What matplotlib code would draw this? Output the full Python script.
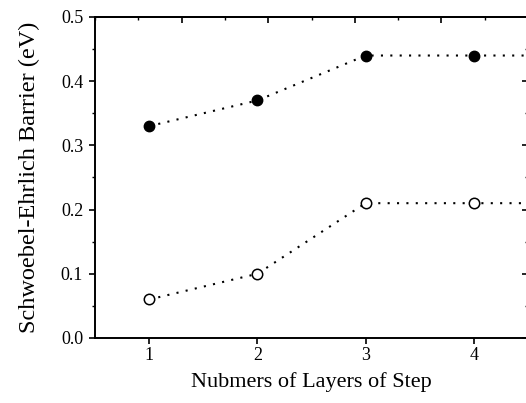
import matplotlib
matplotlib.use("Agg")
import matplotlib.pyplot as plt
from matplotlib.ticker import MultipleLocator

plt.rcParams['font.family'] = ['Liberation Serif', 'DejaVu Serif']

# data
layers = [1, 2, 3, 4, 5]
barrier_filled = [0.33, 0.37, 0.44, 0.44, 0.44]
barrier_open = [0.06, 0.10, 0.21, 0.21, 0.21]

fig = plt.figure(figsize=(5.26, 4.03), dpi=100)
W, H = 526.0, 403.0
ax = fig.add_axes([95 / W, 65 / H, (528 - 95) / W, (338 - 17) / H])

dots = (0, (1, 3.5))
ax.plot(layers, barrier_filled, linestyle=dots, color='black', lw=1.5,
        marker='o', markersize=7.5, markerfacecolor='black', markeredgecolor='black')
ax.plot(layers, barrier_open, linestyle=dots, color='black', lw=1.5,
        marker='o', markersize=7.5, markerfacecolor='white', markeredgecolor='black',
        markeredgewidth=1.1)

ax.set_xlim(0.5, 4.5)
ax.set_ylim(0.0, 0.5)
ax.set_xticks([1, 2, 3, 4])
ax.yaxis.set_major_locator(MultipleLocator(0.1))
ax.yaxis.set_minor_locator(MultipleLocator(0.05))
ax.yaxis.set_major_formatter(matplotlib.ticker.FormatStrFormatter('%.1f'))

for s in ax.spines.values():
    s.set_linewidth(1.4)

ax.tick_params(axis='both', direction='out', width=1.2, labelsize=13)
ax.tick_params(axis='x', length=4.5, pad=2)
ax.tick_params(axis='y', which='major', length=4.5, pad=4)
ax.tick_params(axis='y', which='minor', length=2.5, width=1.0)

# top axis with its own scale (0..5), ticks inside
top = ax.secondary_xaxis('top', functions=(lambda x: (x - 0.5) * 1.25,
                                          lambda t: t * 0.8 + 0.5))
top.set_xticks([1, 2, 3, 4])
top.xaxis.set_minor_locator(MultipleLocator(0.5))
top.tick_params(which='both', direction='in', labeltop=False, width=1.2)
top.tick_params(which='major', length=4.5)
top.tick_params(which='minor', length=2.5, width=1.0)
top.spines['top'].set_linewidth(1.4)

right = ax.secondary_yaxis('right')
right.yaxis.set_major_locator(MultipleLocator(0.1))
right.yaxis.set_minor_locator(MultipleLocator(0.05))
right.tick_params(which='both', direction='in', labelright=False, width=1.2)
right.tick_params(which='major', length=4.5)
right.tick_params(which='minor', length=2.5, width=1.0)

ax.set_xlabel('Nubmers of Layers of Step', fontsize=16, labelpad=6)
ax.set_ylabel('Schwoebel-Ehrlich Barrier (eV)', fontsize=17.5, labelpad=15)

fig.savefig('out.png', dpi=100)
